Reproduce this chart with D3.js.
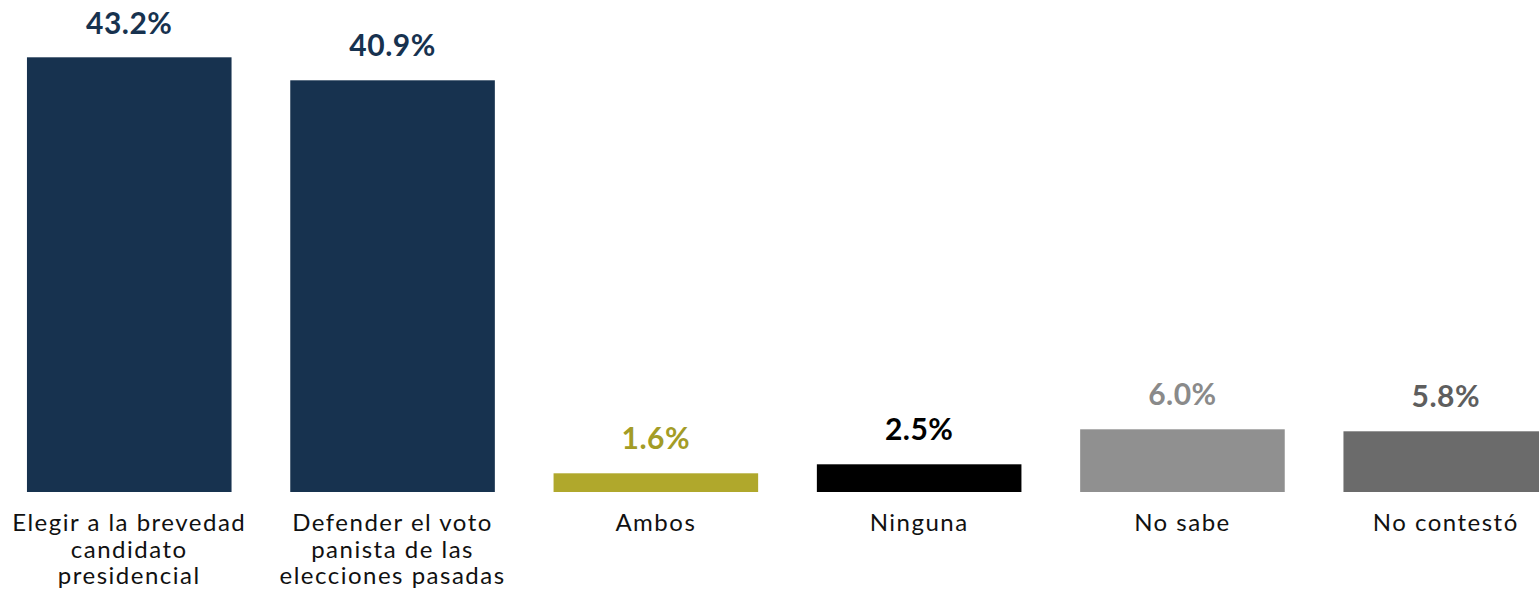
<!DOCTYPE html>
<html>
<head>
<meta charset="utf-8">
<script src="https://cdn.jsdelivr.net/npm/d3@7"></script>
<style>
  body { margin: 0; background: #fff; overflow: hidden; }
  svg { display: block; }
</style>
</head>
<body>
<div id="vis"></div>
<script>
const width = 1539;
const height = 591;

// data
const categories = [
  ['Elegir a la brevedad', 'candidato', 'presidencial'],
  ['Defender el voto', 'panista de las', 'elecciones pasadas'],
  ['Ambos'],
  ['Ninguna'],
  ['No sabe'],
  ['No contestó']
];
const values = [43.2, 40.9, 1.6, 2.5, 6.0, 5.8];
const valueLabels = ['43.2%', '40.9%', '1.6%', '2.5%', '6.0%', '5.8%'];
const barColors = ['#17324f', '#17324f', '#b0a82c', '#000000', '#909090', '#6b6b6b'];
const labelColors = ['#17324f', '#17324f', '#a39c26', '#000000', '#8a8a8a', '#5e5e5e'];

const ids = categories.map((c, i) => i);

const svg = d3.select('#vis')
  .append('svg')
  .attr('width', width)
  .attr('height', height);

// band scale runs a little past the right edge, as in the original
const step = 263.3;
const x = d3.scaleBand()
  .domain(ids)
  .range([-2.4, -2.4 + step * ids.length])
  .paddingInner(0.223)
  .paddingOuter(0.1115);

const yMin = -0.27;
const y = d3.scaleLinear()
  .domain([0, 50])
  .range([489.3, -10.7]);

// bars
svg.selectAll('rect.bar')
  .data(values)
  .join('rect')
  .attr('class', 'bar')
  .attr('x', (d, i) => x(i))
  .attr('y', d => y(d))
  .attr('width', x.bandwidth())
  .attr('height', d => y(yMin) - y(d))
  .style('fill', (d, i) => barColors[i]);

// value labels
svg.selectAll('text.value')
  .data(values)
  .join('text')
  .attr('class', 'value')
  .attr('x', (d, i) => x(i) + x.bandwidth() / 2)
  .attr('y', d => Math.max(y(d) - 24, 34.3))
  .attr('text-anchor', 'middle')
  .style('font-family', 'Lato, "Open Sans", sans-serif')
  .style('font-weight', 'bold')
  .style('font-size', '30px')
  .style('letter-spacing', '0.5px')
  .style('fill', (d, i) => labelColors[i])
  .text((d, i) => valueLabels[i]);

// category labels
const cat = svg.selectAll('text.cat')
  .data(categories)
  .join('text')
  .attr('class', 'cat')
  .attr('x', (d, i) => x(i) + x.bandwidth() / 2)
  .attr('y', 531)
  .attr('text-anchor', 'middle')
  .style('font-family', 'Lato, "Open Sans", sans-serif')
  .style('font-size', '24px')
  .style('letter-spacing', '1.5px')
  .style('fill', '#111');

cat.selectAll('tspan')
  .data((d, i) => d.map(t => ({t, cx: x(i) + x.bandwidth() / 2})))
  .join('tspan')
  .attr('x', d => d.cx)
  .attr('dy', (d, j) => j === 0 ? 0 : 26.5)
  .text(d => d.t);
</script>
</body>
</html>
